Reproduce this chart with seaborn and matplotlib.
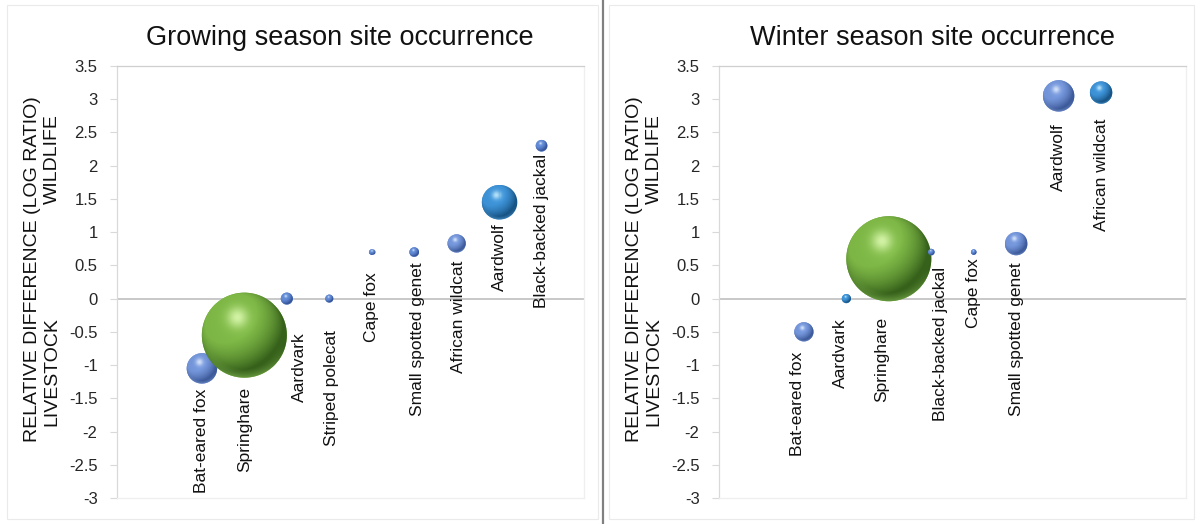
import numpy as np
import pandas as pd
import matplotlib
matplotlib.use("Agg")
import matplotlib.pyplot as plt
import seaborn as sns
from matplotlib.transforms import blended_transform_factory
from matplotlib.colors import to_rgb
from matplotlib.lines import Line2D
from matplotlib.patches import Rectangle

# ---------------------------------------------------------------- data
GROW_SPECIES = ["Bat-eared fox", "Springhare", "Aardvark", "Striped polecat",
                "Cape fox", "Small spotted genet", "African wildcat",
                "Aardwolf", "Black-backed jackal"]
GROW_LOG_RATIO = [-1.05, -0.55, 0.0, 0.0, 0.7, 0.7, 0.83, 1.45, 2.3]
GROW_BUBBLE = [12.8, 100.0, 2.0, 0.9, 0.43, 1.28, 4.6, 16.4, 1.87]

WINTER_SPECIES = ["Bat-eared fox", "Aardvark", "Springhare",
                  "Black-backed jackal", "Cape fox", "Small spotted genet",
                  "Aardwolf", "African wildcat"]
WINTER_LOG_RATIO = [-0.5, 0.0, 0.6, 0.7, 0.7, 0.82, 3.05, 3.1]
WINTER_BUBBLE = [5.1, 1.15, 100.0, 0.6, 0.43, 6.9, 13.6, 6.9]

Y_TICKS = [-3, -2.5, -2, -1.5, -1, -0.5, 0, 0.5, 1, 1.5, 2, 2.5, 3, 3.5]
Y_TICK_LABELS = ["-3", "-2.5", "-2", "-1.5", "-1", "-0.5", "0", "0.5",
                 "1", "1.5", "2", "2.5", "3", "3.5"]

TITLES = ["Growing season site occurrence", "Winter season site occurrence"]
Y_LABEL = "RELATIVE DIFFERENCE (LOG RATIO)"
LOW_SIDE = "LIVESTOCK"
HIGH_SIDE = "WILDLIFE"

# ---------------------------------------------------------------- styling
sns.set_theme(style="white")
plt.rcParams["font.family"] = ["Liberation Sans", "DejaVu Sans"]

# sphere materials: shadow, body, highlight, bottom reflection
MATERIALS = {
    "green": ["#35601A", "#7CB545", "#DAF8AE", "#8DC35B"],
    "lav": ["#3D5A9A", "#7293D6", "#DAE7FB", "#8CA7DF"],
    "blue": ["#34549A", "#6088D1", "#CDDFF8", "#7FA0DC"],
    "cyan": ["#185485", "#3C90D3", "#C0E8FB", "#5CA8DF"],
}

GROW_SHADE = {"Bat-eared fox": "lav", "Springhare": "green", "Aardvark": "blue",
              "Striped polecat": "blue", "Cape fox": "blue",
              "Small spotted genet": "blue", "African wildcat": "lav",
              "Aardwolf": "cyan", "Black-backed jackal": "blue"}
WINTER_SHADE = {"Bat-eared fox": "lav", "Aardvark": "cyan", "Springhare": "green",
                "Black-backed jackal": "blue", "Cape fox": "blue",
                "Small spotted genet": "lav", "Aardwolf": "lav",
                "African wildcat": "cyan"}

# label placement nudges (px): gap below each bubble, sideways shift
GROW_GAP = [5, 9, 28, 27, 17, 5, 8, 4, 2]
GROW_SHIFT = [0, 0, 13, 2, 0, 3, 2, 0, 0]
WINTER_GAP = [10, 15, 16, 11, 3, 7, 12, 15]
WINTER_SHIFT = [-6, -6, -7, 9, 0, 0, 0, 0]

DPI = 100
S_MAX = (0.72 * 85) ** 2          # marker area (pt^2) of the largest bubble
SIZE_NORM = (0, 100)
LIGHT = np.array([-0.42, 0.52, 0.74])
LIGHT = LIGHT / np.linalg.norm(LIGHT)

fig = plt.figure(figsize=(12, 5.24), dpi=DPI)
fig.patch.set_facecolor("white")

AX_W = 467 / 1200
AX_B = 1 - 498 / 524
AX_H = 432 / 524
ax_left = fig.add_axes([117 / 1200, AX_B, AX_W, AX_H])
ax_right = fig.add_axes([719 / 1200, AX_B, AX_W, AX_H])

# chart-area frames and the divider between the two charts
fig.add_artist(Rectangle((7 / 1200, 5 / 524), 591 / 1200, 514 / 524,
                         transform=fig.transFigure, fill=False,
                         edgecolor="#EAEAEA", lw=0.8))
fig.add_artist(Rectangle((609 / 1200, 5 / 524), 585 / 1200, 514 / 524,
                         transform=fig.transFigure, fill=False,
                         edgecolor="#EAEAEA", lw=0.8))
fig.add_artist(Line2D([603 / 1200, 603 / 1200], [0, 1],
                      transform=fig.transFigure, color="#808080", lw=1.6))


def sphere_sprite(cx, cy, r_px, material):
    """RGBA sprite of a lit sphere, aligned to the display pixel grid."""
    shadow, body, hilite, reflect = (np.array(to_rgb(c)) for c in material)
    x0 = np.floor(cx - r_px - 1)
    x1 = np.ceil(cx + r_px + 1)
    y0 = np.floor(cy - r_px - 1)
    y1 = np.ceil(cy + r_px + 1)
    xs = np.arange(x0, x1) + 0.5
    ys = np.arange(y1, y0, -1) - 0.5          # top row first
    X, Y = np.meshgrid(xs, ys)
    u = (X - cx) / r_px
    v = (Y - cy) / r_px
    rho = np.sqrt(u ** 2 + v ** 2)
    w = np.sqrt(np.clip(1 - rho ** 2, 0, 1))
    diffuse = np.clip(u * LIGHT[0] + v * LIGHT[1] + w * LIGHT[2], 0, 1)
    rgb = shadow + (body - shadow) * np.clip(diffuse / 0.75, 0, 1)[..., None]
    glow = np.exp(-((u + 0.10) ** 2 + (v - 0.30) ** 2) / (2 * 0.42 ** 2))
    rgb = rgb + (np.clip(body * 1.12, 0, 1) - rgb) * (0.35 * glow)[..., None]
    spot = np.exp(-((u + 0.16) ** 2 + (v - 0.42) ** 2) / (2 * 0.17 ** 2))
    rgb = rgb + (hilite - rgb) * (0.9 * spot)[..., None]
    rim = np.clip((rho - 0.80) / 0.20, 0, 1) * np.clip(-v - 0.25, 0, 1)
    rgb = rgb + (reflect - rgb) * (0.75 * rim)[..., None]
    alpha = np.clip(r_px - rho * r_px + 0.5, 0, 1)
    img = np.dstack([np.clip(rgb, 0, 1), alpha])
    return img, (x0, x1, y0, y1)


def draw_panel(ax, species, ratio, bubble, shade, gaps, shifts, title,
               title_x):
    df = pd.DataFrame({"species": species, "ratio": ratio, "bubble": bubble})
    df["pos"] = np.arange(len(df)) + 2

    ax.set_xlim(0, 11)
    ax.set_ylim(-3, 3.5)
    ax.axhline(0, color="#BFBFBF", lw=1.2, zorder=1)

    body = {s: MATERIALS[shade[s]][1] for s in species}
    sns.scatterplot(data=df, x="pos", y="ratio", hue="species", palette=body,
                    size="bubble", sizes=(0, S_MAX), size_norm=SIZE_NORM,
                    legend=False, linewidth=0, ax=ax, zorder=2)

    to_data = ax.transData.inverted()
    for i, row in df.iterrows():
        s_base = row["bubble"] / SIZE_NORM[1] * S_MAX
        r_pt = np.sqrt(s_base) / 2.0
        r_px = r_pt * DPI / 72
        cx, cy = ax.transData.transform((row["pos"], row["ratio"]))
        img, (x0, x1, y0, y1) = sphere_sprite(cx, cy, r_px,
                                              MATERIALS[shade[row["species"]]])
        (dx0, dy0), (dx1, dy1) = to_data.transform([(x0, y0), (x1, y1)])
        ax.imshow(img, extent=(dx0, dx1, dy0, dy1), origin="upper",
                  interpolation="nearest", aspect="auto",
                  zorder=3 + i * 0.001)
        off = r_pt + gaps[i] * 0.72
        ax.annotate(row["species"], (row["pos"], row["ratio"]),
                    xytext=(shifts[i] * 0.72, -off),
                    textcoords="offset points",
                    rotation=90, ha="center", va="top", fontsize=12.5,
                    color="#111111", zorder=4)

    ax.set_xlim(0, 11)
    ax.set_ylim(-3, 3.5)
    ax.set_yticks(Y_TICKS)
    ax.set_yticklabels(Y_TICK_LABELS)
    ax.set_xticks([])
    ax.set_xlabel("")
    ax.set_ylabel("")
    ax.tick_params(axis="y", which="major", direction="out", length=5,
                   width=0.8, color="#D9D9D9", pad=9, labelsize=12,
                   labelcolor="#262626", left=True)

    ax.spines["left"].set_color("#D9D9D9")
    ax.spines["top"].set_color("#CFCFCF")
    ax.spines["bottom"].set_color("#EFEFEF")
    ax.spines["right"].set_color("#EFEFEF")
    for sp in ax.spines.values():
        sp.set_linewidth(0.9)
        sp.set_visible(True)

    blend = blended_transform_factory(ax.transAxes, ax.transData)
    ax.text(-0.182, 0.45, Y_LABEL, transform=blend, rotation=90,
            ha="center", va="center", fontsize=14, color="#111111")
    ax.text(-0.139, -1.1, LOW_SIDE, transform=blend, rotation=90,
            ha="center", va="center", fontsize=14, color="#111111")
    ax.text(-0.139, 2.1, HIGH_SIDE, transform=blend, rotation=90,
            ha="center", va="center", fontsize=14, color="#111111")

    fig.text(title_x, 1 - 38 / 524, title, ha="center", va="center",
             fontsize=19.5, color="#111111")


draw_panel(ax_left, GROW_SPECIES, GROW_LOG_RATIO, GROW_BUBBLE, GROW_SHADE,
           GROW_GAP, GROW_SHIFT, TITLES[0], 340 / 1200)
draw_panel(ax_right, WINTER_SPECIES, WINTER_LOG_RATIO, WINTER_BUBBLE,
           WINTER_SHADE, WINTER_GAP, WINTER_SHIFT, TITLES[1], 933 / 1200)

fig.savefig("out.png", dpi=DPI, facecolor="white")
